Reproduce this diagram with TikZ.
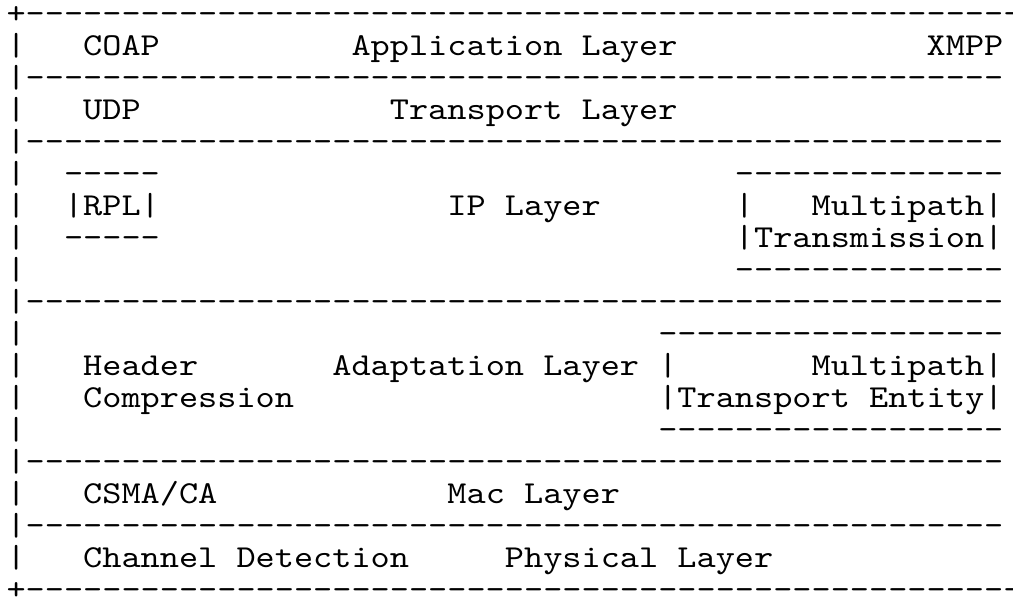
\documentclass[tikz,border=0pt]{standalone}
\usepackage{fontspec}
\setmonofont{lmmono10-regular.otf}[FakeStretch=1.142857]
\ExplSyntaxOn
\cs_new:Npn \asciirep #1 #2 { \prg_replicate:nn {#1} {#2} }
\ExplSyntaxOff
\tikzset{ascii/.style={anchor=base west, inner sep=0pt, text=black,
  font=\ttfamily\fontsize{15.975pt}{15.975pt}\selectfont}}
\newcommand\cell[4]{\node[ascii] (#1) at ({6.1+19.17*#2},{24+31.95*#3}) {#4};}
\begin{document}
\begin{tikzpicture}[x=0.5pt,y=-0.5pt]
\useasboundingbox (0,0) rectangle (1013,598);
\cell{r0a}{0}{0}{+}
\cell{r0b}{1}{0}{\asciirep{52}{-}}
\cell{r1a}{0}{1}{|}
\cell{r1b}{4}{1}{COAP}
\cell{r1c}{18}{1}{Application Layer}
\cell{r1d}{48}{1}{XMPP}
\cell{r2a}{0}{2}{|\asciirep{51}{-}}
\cell{r3a}{0}{3}{|}
\cell{r3b}{4}{3}{UDP}
\cell{r3c}{20}{3}{Transport Layer}
\cell{r4a}{0}{4}{|\asciirep{51}{-}}
\cell{r5a}{0}{5}{|}
\cell{r5b}{3}{5}{-----}
\cell{r5c}{38}{5}{\asciirep{14}{-}}
\cell{r6a}{0}{6}{|}
\cell{r6b}{3}{6}{|RPL|}
\cell{r6c}{23}{6}{IP Layer}
\cell{r6d}{38}{6}{|}
\cell{r6e}{42}{6}{Multipath|}
\cell{r7a}{0}{7}{|}
\cell{r7b}{3}{7}{-----}
\cell{r7c}{38}{7}{|Transmission|}
\cell{r8a}{0}{8}{|}
\cell{r8b}{38}{8}{\asciirep{14}{-}}
\cell{r9a}{0}{9}{|\asciirep{51}{-}}
\cell{r10a}{0}{10}{|}
\cell{r10b}{34}{10}{\asciirep{18}{-}}
\cell{r11a}{0}{11}{|}
\cell{r11b}{4}{11}{Header}
\cell{r11c}{17}{11}{Adaptation Layer}
\cell{r11d}{34}{11}{|}
\cell{r11e}{42}{11}{Multipath|}
\cell{r12a}{0}{12}{|}
\cell{r12b}{4}{12}{Compression}
\cell{r12c}{34}{12}{|Transport Entity|}
\cell{r13a}{0}{13}{|}
\cell{r13b}{34}{13}{\asciirep{18}{-}}
\cell{r14a}{0}{14}{|\asciirep{51}{-}}
\cell{r15a}{0}{15}{|}
\cell{r15b}{4}{15}{CSMA/CA}
\cell{r15c}{23}{15}{Mac Layer}
\cell{r16a}{0}{16}{|\asciirep{51}{-}}
\cell{r17a}{0}{17}{|}
\cell{r17b}{4}{17}{Channel Detection}
\cell{r17c}{26}{17}{Physical Layer}
\cell{r18a}{0}{18}{+}
\cell{r18b}{1}{18}{\asciirep{52}{-}}
\end{tikzpicture}
\end{document}
